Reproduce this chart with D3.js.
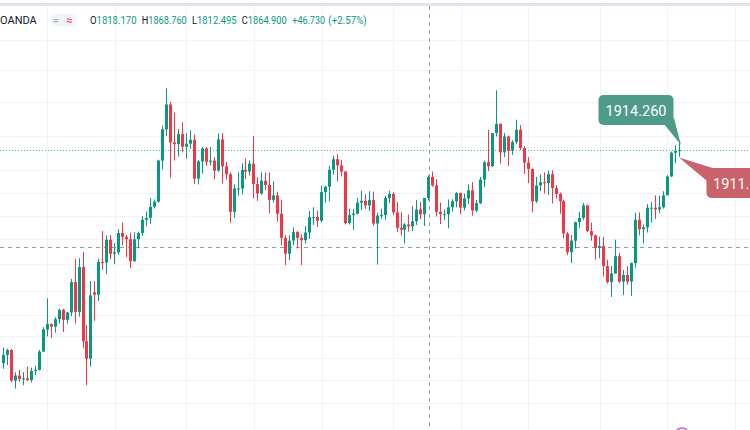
<!DOCTYPE html>
<html><head><meta charset="utf-8">
<script src="https://cdn.jsdelivr.net/npm/d3@7"></script>
<style>html,body{margin:0;padding:0;background:#fff;overflow:hidden}svg{display:block}</style>
</head><body>
<svg id="c" width="750" height="430"></svg>
<script>
// Weekly candles, XAUUSD (OANDA), first week 2019-10-21
const startWeek = "2019-10-21";
const open = [
1490,1505,1514,1459,1468,1462,1463,1460,1476,1478,
1511,1552,1562,1557,1571,1589,1570,1584,1643,1585,
1673,1530,1498,1623,1618,1683,1682,1729,1700,1703,
1743,1735,1730,1685,1730,1743,1771,1775,1799,1810,
1902,1975,2035,1944,1940,1964,1934,1941,1950,1861,
1900,1930,1899,1902,1879,1951,1889,1871,1788,1839,
1839,1881,1877,1895,1849,1828,1856,1847,1814,1824,
1784,1733,1700,1727,1745,1733,1728,1744,1777,1777,
1769,1831,1843,1881,1905,1891,1877,1764,1781,1784,
1808,1812,1802,1814,1763,1780,1781,1818,1827,1787,
1754,1750,1761,1757,1768,1793,1783,1818.17,1865,1846,
1788,1783,1783,1798,1811,1829,1797,1817,1835,1791,
1807,1859,1898,1889,1966,1988,1921,1958,1925,1945,
1974,1931,1897,1883,1811,1846,1853,1851,1871,1840,
1827,1811,1742,1703,1727,1766,1775,1802,1747,1738,
1712,1716,1675,1643,1660,1695,1644,1657,1644,1681,
1771,1751,1755,1797,1797,1793,1798,1824,1866,1920,
1925];
const high = [
1518,1516,1516,1474,1478,1474,1484,1482,1485,1514,
1556,1611,1563,1575,1591,1591,1585,1649,1689,1691,
1704,1560,1645,1645,1690,1747,1738,1739,1722,1751,
1765,1739,1744,1745,1746,1779,1789,1818,1815,1904,
1984,2075,2041,2015,1976,1992,1966,1973,1962,1903,
1933,1933,1933,1910,1965,1966,1899,1875,1848,1875,
1896,1907,1902,1959,1864,1875,1875,1875,1855,1832,
1814,1739,1739,1755,1747,1740,1758,1790,1798,1790,
1846,1845,1890,1913,1917,1903,1878,1795,1794,1818,
1834,1826,1833,1832,1786,1795,1823,1834,1831,1809,
1787,1764,1782,1801,1814,1810,1818,1868.76,1877,1860,
1808,1793,1815,1815,1831,1830,1828,1848,1853,1814,
1865,1902,1974,1966,2070,1989,1966,1960,1949,1998,
1985,1936,1910,1884,1865,1870,1875,1879,1880,1847,
1830,1814,1745,1739,1767,1788,1807,1803,1765,1740,
1735,1735,1688,1675,1729,1702,1667,1675,1682,1786,
1787,1761,1805,1810,1824,1823,1833,1869,1923,1937,
1949];
const low = [
1480,1487,1456,1445,1457,1451,1458,1456,1469,1477,
1510,1539,1536,1546,1563,1547,1563,1577,1563,1576,
1517,1451,1484,1568,1606,1668,1659,1689,1679,1698,
1717,1693,1671,1683,1711,1737,1757,1763,1795,1808,
1882,1959,1863,1902,1911,1921,1906,1929,1849,1848,
1873,1890,1891,1860,1877,1850,1859,1764,1775,1823,
1826,1860,1868,1817,1812,1825,1835,1785,1808,1767,
1717,1677,1687,1717,1711,1677,1721,1731,1760,1756,
1765,1808,1811,1870,1855,1866,1761,1761,1750,1783,
1792,1794,1790,1758,1678,1773,1771,1807,1781,1745,
1738,1721,1746,1747,1760,1772,1758,1812.495,1843,1778,
1762,1771,1753,1789,1798,1783,1791,1805,1780,1787,
1805,1842,1878,1887,1958,1895,1910,1890,1915,1940,
1926,1872,1851,1787,1807,1833,1828,1825,1806,1817,
1784,1732,1697,1681,1711,1754,1771,1745,1727,1688,
1691,1654,1640,1614,1659,1641,1618,1638,1616,1672,
1738,1721,1744,1765,1773,1785,1795,1824,1865,1896,
1911];
const close = [
1505,1514,1459,1468,1462,1463,1460,1476,1478,1511,
1552,1562,1557,1571,1589,1570,1584,1643,1585,1673,
1530,1498,1617,1618,1683,1682,1729,1700,1703,1743,
1735,1730,1685,1730,1743,1771,1775,1799,1810,1902,
1975,2035,1944,1940,1964,1934,1941,1950,1861,1900,
1930,1899,1902,1879,1951,1889,1871,1788,1839,1839,
1881,1877,1895,1849,1828,1856,1847,1814,1824,1784,
1733,1700,1727,1745,1733,1728,1744,1777,1777,1769,
1831,1843,1881,1905,1891,1877,1764,1781,1784,1808,
1812,1802,1814,1763,1780,1781,1818,1827,1787,1754,
1750,1761,1757,1768,1793,1783,1818,1864.9,1846,1788,
1783,1783,1798,1811,1829,1797,1817,1835,1791,1807,
1859,1898,1889,1966,1988,1921,1958,1925,1945,1974,
1931,1897,1883,1811,1846,1853,1851,1871,1840,1827,
1811,1742,1703,1727,1766,1775,1802,1747,1738,1712,
1716,1675,1643,1660,1695,1644,1657,1644,1681,1771,
1751,1755,1797,1797,1793,1798,1824,1866,1920,1925,
1926];

// month-start weeks (index) for vertical grid, price levels for horizontal grid
const vGridWeeks = [11,28,46,63,80,98,115,132,150,167,184];
const hGridPrices = [2200,2120,2040,1960,1880,1830,1780,1730,1680,1625,1580,1540,1500,1460,1420];
const crossWeek = 107;
const crossPrice = 1714.6;

const symbolText = "OANDA";
const legendKeys = ["O","H","L","C"];
const legendVals = ["1818.170","1868.760","1812.495","1864.900"];
const changeVals = ["+46.730","(+2.57%)"];
const noteUp = "1914.260";
const noteDown = "1911.";

const W = 750, H = 430;
const UP = "#089981", DOWN = "#f23645";
const svg = d3.select("#c");
const FONT = "Roboto, 'Open Sans', sans-serif";

const x = d3.scaleLinear().domain([0, close.length - 1]).range([3.5, 679.25]);
const y = d3.scaleLog().domain([1374.8, 2307.9]).range([H, 0]);

// header separator
svg.append("rect").attr("x", 0).attr("y", 3).attr("width", W).attr("height", 3).attr("fill", "#e0e3eb");

// grid
const g = svg.append("g");
g.selectAll("line.v").data(vGridWeeks).join("line").attr("class", "v")
  .attr("x1", d => Math.round(x(d)) + 0.5).attr("x2", d => Math.round(x(d)) + 0.5)
  .attr("y1", 6).attr("y2", H).attr("stroke", "#f0f3fa").attr("stroke-width", 1);
g.selectAll("line.h").data(hGridPrices).join("line").attr("class", "h")
  .attr("x1", 0).attr("x2", W)
  .attr("y1", d => Math.round(y(d)) + 0.5).attr("y2", d => Math.round(y(d)) + 0.5)
  .attr("stroke", "#f0f3fa").attr("stroke-width", 1);

// crosshair
const cx = Math.round(x(crossWeek)) + 0.5, cy = Math.round(y(crossPrice)) + 0.5;
svg.append("line").attr("x1", cx).attr("x2", cx).attr("y1", 6).attr("y2", H)
  .attr("stroke", "#9598a1").attr("stroke-dasharray", "4,4").attr("stroke-width", 1);
svg.append("line").attr("x1", 0).attr("x2", W).attr("y1", cy).attr("y2", cy)
  .attr("stroke", "#9598a1").attr("stroke-dasharray", "4,4").attr("stroke-width", 1);

// last price line
const last = close.length - 1;
const py = Math.round(y(close[last])) + 0.5;
svg.append("line").attr("x1", 0).attr("x2", W).attr("y1", py).attr("y2", py)
  .attr("stroke", UP).attr("stroke-opacity", 0.7).attr("stroke-dasharray", "1,2");

// candles
const data = close.map((c, i) => ({i, o: open[i], h: high[i], l: low[i], c}));
const cg = svg.append("g");
const cand = cg.selectAll("g").data(data).join("g");
cand.append("line")
  .attr("x1", d => Math.round(x(d.i) - 1.5) + 1.5).attr("x2", d => Math.round(x(d.i) - 1.5) + 1.5)
  .attr("y1", d => y(d.h)).attr("y2", d => y(d.l))
  .attr("stroke", d => d.c >= d.o ? UP : DOWN).attr("stroke-width", 1);
cand.append("rect")
  .attr("x", d => Math.round(x(d.i) - 1.5)).attr("width", 3)
  .attr("y", d => y(Math.max(d.o, d.c)))
  .attr("height", d => Math.max(1, y(Math.min(d.o, d.c)) - y(Math.max(d.o, d.c))))
  .attr("fill", d => d.c >= d.o ? UP : DOWN);

// legend
const lg = svg.append("g").attr("font-family", FONT);
lg.append("text").attr("x", 0).attr("y", 23.5).attr("font-size", 11).attr("fill", "#131722").text(symbolText);
lg.append("rect").attr("x", 50).attr("y", 13.5).attr("width", 27).attr("height", 13).attr("rx", 6.5).attr("fill", "#f0f3fa");
lg.append("text").attr("x", 52.5).attr("y", 23.5).attr("font-size", 11).attr("font-weight", 700).attr("fill", "#b2b5be").text("=");
lg.append("text").attr("x", 66).attr("y", 23.5).attr("font-size", 11).attr("font-weight", 700).attr("fill", "#f7525f").text("≈");
const itemX = [90, 141.7, 192, 241.7];
const itemW = [46.5, 45, 44.5, 45];
legendKeys.forEach((k, j) => {
  const t = lg.append("text").attr("x", itemX[j]).attr("y", 23.5).attr("font-size", 10.5)
    .attr("textLength", itemW[j]).attr("lengthAdjust", "spacingAndGlyphs");
  t.append("tspan").attr("fill", "#131722").text(k);
  t.append("tspan").attr("fill", UP).text(legendVals[j]);
});
lg.append("text").attr("x", 292.3).attr("y", 23.5).attr("font-size", 10.5).attr("fill", UP)
  .attr("textLength", 32.7).attr("lengthAdjust", "spacingAndGlyphs").text(changeVals[0]);
lg.append("text").attr("x", 328.3).attr("y", 23.5).attr("font-size", 10.5).attr("fill", UP)
  .attr("textLength", 38.4).attr("lengthAdjust", "spacingAndGlyphs").text(changeVals[1]);

// notes (callouts)
const ng = svg.append("g").attr("font-family", FONT);
ng.append("path").attr("d", "M664,124 L674,118 L681,145 Z").attr("fill", "#4f9b8a");
ng.append("rect").attr("x", 598.5).attr("y", 95).attr("width", 75).attr("height", 30).attr("rx", 5).attr("fill", "#4f9b8a");
ng.append("text").attr("x", 636).attr("y", 115.5).attr("text-anchor", "middle").attr("font-size", 14.5)
  .attr("fill", "#fff").text(noteUp);
ng.append("path").attr("d", "M679,157.5 L714,168.5 L707,181 Z").attr("fill", "#c9626b");
ng.append("rect").attr("x", 706.5).attr("y", 168).attr("width", 70).attr("height", 30).attr("rx", 5).attr("fill", "#c9626b");
ng.append("text").attr("x", 713).attr("y", 188.5).attr("font-size", 14.5).attr("fill", "#fff").text(noteDown);

// time marker circle at bottom
svg.append("circle").attr("cx", 682).attr("cy", 435).attr("r", 7).attr("fill", "none")
  .attr("stroke", "#b668c9").attr("stroke-width", 1.5);
</script>
</body></html>
